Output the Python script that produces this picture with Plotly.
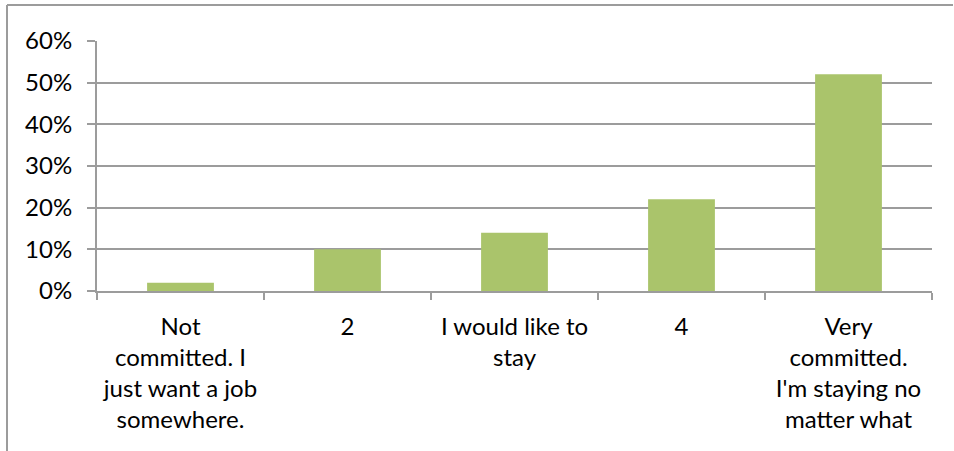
import plotly.graph_objects as go

categories = [
    "Not<br>committed. I<br>just want a job<br>somewhere.",
    "2",
    "I would like to<br>stay",
    "4",
    "Very<br>committed.<br>I'm staying no<br>matter what",
]
values = [0.02, 0.10, 0.14, 0.22, 0.52]
y_ticks = [0, 0.1, 0.2, 0.3, 0.4, 0.5, 0.6]
y_tick_labels = ["0%", "10%", "20%", "30%", "40%", "50%", "60%"]

W, H = 954, 451
L, R, T, B = 97, 22, 41, 160
pw, ph = W - L - R, H - T - B

FONT = "Lato"
GRID = "#9C9C9C"
FS = 24

fig = go.Figure(go.Bar(
    x=categories, y=values,
    marker=dict(color="#AAC46B", line=dict(width=0)),
    width=0.4,
))

fig.update_layout(
    width=W, height=H,
    margin=dict(l=L, r=R, t=T, b=B, autoexpand=False),
    paper_bgcolor="white", plot_bgcolor="white",
    showlegend=False,
    font=dict(family=FONT, size=FS, color="#000000"),
    xaxis=dict(
        showline=True, linecolor=GRID, linewidth=2,
        ticks="outside", ticklen=7, tickcolor=GRID, tickwidth=2,
        tickson="boundaries",
        showgrid=False,
        tickfont=dict(family=FONT, size=FS, color="#000000"),
        ticklabelstandoff=13,
    ),
    yaxis=dict(
        range=[0, 0.6],
        tickvals=y_ticks, ticktext=y_tick_labels,
        showline=True, linecolor=GRID, linewidth=2,
        ticks="outside", ticklen=8, tickcolor=GRID, tickwidth=2,
        showgrid=True, gridcolor=GRID, gridwidth=2,
        zeroline=False,
        tickfont=dict(family=FONT, size=FS, color="#000000"),
        ticklabelstandoff=10,
    ),
    shapes=[
        # chart border (top, left)
        dict(type="line", xref="paper", yref="paper",
             x0=(7 - L) / pw, x1=(953 - L) / pw,
             y0=(H - B - 5) / ph, y1=(H - B - 5) / ph,
             line=dict(color="#9C9C9C", width=2)),
        dict(type="line", xref="paper", yref="paper",
             x0=(7 - L) / pw, x1=(7 - L) / pw,
             y0=(H - B - 5) / ph, y1=(H - B - 460) / ph,
             line=dict(color="#9C9C9C", width=2)),
    ],
)

fig.write_html("out.html")
